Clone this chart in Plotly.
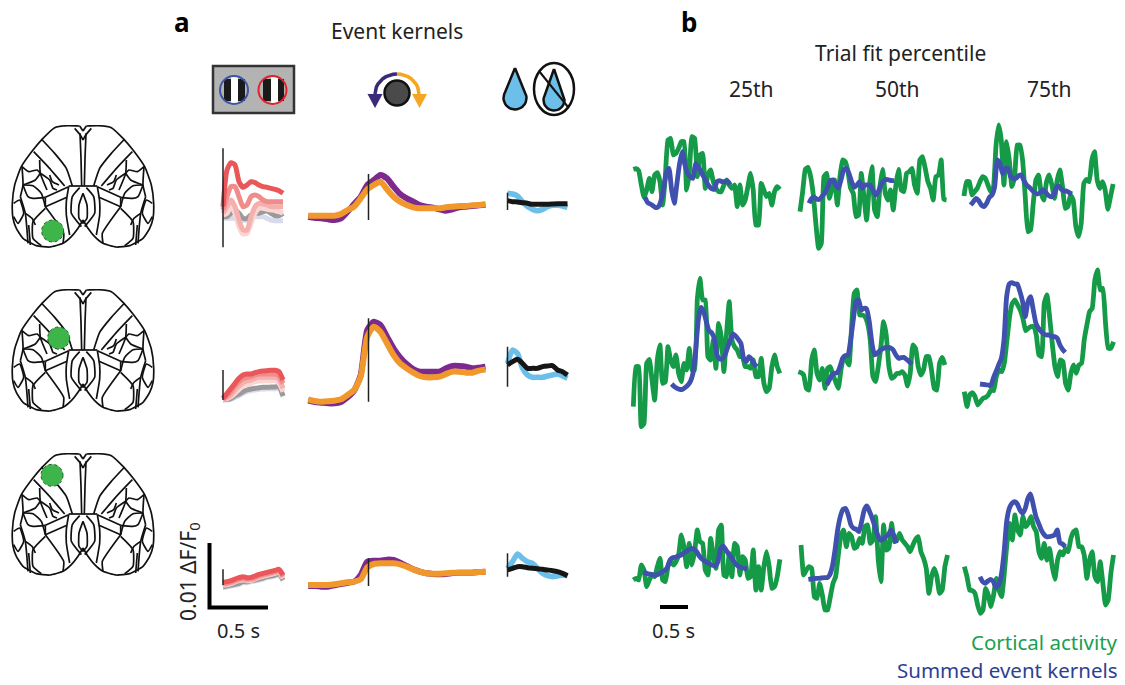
import math
import plotly.graph_objects as go

W, H = 1125, 685

# ---------- panel a: event kernels (values in a.u., time in s from event) ----------
VIS_DT, WHEEL_DT, REW_DT = 0.069, 0.1132, 0.0862
WHEEL_T0 = -1.04

VIS_R1_RED = [130,240,262,255,205,188,195,205,202,195,190,188,185,182,178,170]
VIS_R1_SALMON = [120,160,190,190,160,130,135,160,165,160,150,145,145,145,145,145]
VIS_R1_PINK = [110,130,150,130,90,60,60,100,130,140,138,135,130,130,130,130]
VIS_R1_PALE = [105,110,130,110,70,48,50,80,110,125,125,122,120,118,115,110]
VIS_R1_GRAY = [100,100,110,120,110,95,95,105,110,110,115,118,110,103,103,110]
VIS_R1_LAV = [95,95,95,95,95,90,90,95,100,100,100,95,90,88,88,88]
WHEEL_R1_ORANGE = [103,103,103,103,103,108,120,130,155,182,195,205,182,160,145,135,128,125,125,125,125,128,130,132,132,134,135,137]
WHEEL_R1_PURPLE = [100,97,95,92,90,95,115,138,160,195,210,225,215,190,168,155,145,135,130,127,122,118,122,128,130,132,134,136]
REW_R1_BLUE = [170,168,162,145,130,122,118,122,130,134,134,132,128]
REW_R1_BLACK = [148,145,144,142,140,137,137,137,137,138,139,139,139]

VIS_R2_RED = [105,120,135,150,165,175,178,178,182,185,187,188,189,189,185,160]
VIS_R2_SALMON = [103,113,125,142,155,165,168,170,175,178,178,178,178,178,172,150]
VIS_R2_PINK = [102,107,115,130,142,152,157,160,165,168,168,168,168,168,162,135]
VIS_R2_PALE = [102,104,110,120,132,142,146,150,155,157,157,158,158,158,150,125]
VIS_R2_GRAY = [101,102,105,112,118,125,130,133,135,137,138,138,139,139,140,112]
VIS_R2_LAV = [100,100,102,108,113,120,125,128,130,132,133,134,134,134,135,110]
WHEEL_R2_ORANGE = [102,97,95,96,98,102,115,130,170,290,320,305,270,235,210,195,182,172,168,168,170,178,185,185,182,182,188,192]
WHEEL_R2_PURPLE = [98,94,92,90,90,94,108,128,175,310,335,325,290,255,228,208,193,185,185,185,185,195,202,202,200,195,197,200]
REW_R2_BLUE = [210,250,240,195,175,168,168,168,172,175,178,172,165]
REW_R2_BLACK = [205,215,222,210,195,195,195,200,202,203,190,185,175]

VIS_R3_RED = [193,195,198,203,207,210,207,208,212,217,220,223,226,229,232,215]
VIS_R3_SALMON = [190,191,194,199,203,206,203,204,208,213,216,219,222,225,228,211]
VIS_R3_PINK = [187,188,191,196,200,203,200,201,205,210,213,216,219,222,225,208]
VIS_R3_PALE = [185,186,189,194,198,201,198,199,203,208,211,214,217,220,223,205]
VIS_R3_GRAY = [180,182,185,187,190,195,195,198,200,203,206,210,212,215,218,200]
VIS_R3_LAV = [177,179,182,184,187,192,192,195,197,200,203,207,209,212,215,198]
WHEEL_R3_ORANGE = [185,185,185,185,187,190,193,195,202,238,248,250,250,250,247,240,232,225,220,219,219,220,222,222,222,222,224,225]
WHEEL_R3_PURPLE = [182,182,180,180,184,188,192,195,215,255,258,258,261,260,252,242,232,225,220,218,217,218,221,222,222,222,224,225]
REW_R3_BLUE = [235,255,278,265,255,250,235,220,213,210,212,215,213]
REW_R3_BLACK = [230,235,240,240,237,235,234,232,230,228,225,220,213]

EVENT_VIS = [(305, 8), (190, 100), (232, 185)]
EVENT_WHEEL = [(228, 90), (345, 95), (265, 182)]
EVENT_REW = [(172, 120), (260, 140), (280, 210)]

# ---------- panel b: single trials (a.u., time in s from panel start) ----------
TRIAL_DT = 0.0444
GREEN_T0 = [[.139,.139,.094],[.139,.111,.1],[.139,.156,.1]]
BLUE_T0 = [[.333,.289,.206],[.778,.583,.361],[.306,.278,.361]]

G11 = [252,254,248,205,168,190,225,185,235,242,215,145,230,340,345,295,300,315,335,335,190,240,350,345,230,295,300,195,235,250,215,195,185,185,205,220,205,195,205,140,205,145,160,200,240,190,85,85,210,190,170,180,145,185,200,192]
B11 = [168,152,148,143,137,140,158,195,240,255,190,150,210,270,305,265,240,230,225,270,260,245,230,215,202,194,192,215,218,215,215,217,206]
G12 = [125,185,252,258,230,175,85,15,30,230,240,165,195,220,145,230,280,275,245,195,180,110,115,240,170,100,200,260,130,110,200,252,180,160,190,130,205,252,190,185,240,245,255,205,180,280,290,255,215,195,160,230,235,280,162,160]
B12 = [150,165,168,162,162,172,182,198,218,220,205,195,220,250,255,240,215,198,205,215,195,205,205,205,190,175,185,205,217,222,220,218,218]
G13 = [172,215,215,175,185,195,215,230,225,205,185,195,320,385,340,205,335,280,200,230,325,325,280,170,65,70,150,220,235,180,160,215,235,205,165,220,250,200,135,140,175,160,80,50,90,210,222,215,280,305,220,195,215,190,132,170,208]
B13 = [145,155,165,158,145,140,150,168,175,200,280,270,238,255,255,230,225,225,233,235,218,205,198,190,182,178,182,190,185,175,170,172,195,202,192,187,187,182,178]

G21 = [80,200,200,20,30,210,222,160,100,220,265,150,155,260,220,200,235,180,155,210,190,255,190,190,400,465,400,400,230,220,280,195,330,290,185,300,395,280,260,250,230,230,200,200,195,220,170,170,225,150,125,135,200,235,200,180]
B21 = [148,140,135,132,132,137,144,155,180,250,340,378,365,335,308,302,285,235,223,224,235,258,280,298,292,282,270,225,215,230,222,208,200]
G22 = [185,182,175,135,130,220,250,180,160,195,135,195,200,175,155,135,190,230,220,205,320,420,430,355,355,350,330,280,170,155,200,260,335,295,200,165,170,180,180,185,175,142,180,265,255,200,175,190,230,230,190,135,130,210,228,205]
B22 = [145,160,175,180,182,200,225,233,235,280,340,395,400,370,375,373,335,270,235,240,248,253,257,258,256,250,235,225,227,228,222,215,207]
G23 = [125,80,115,122,110,85,95,105,108,115,130,128,170,190,185,210,280,350,390,400,385,370,345,308,315,320,320,295,235,230,390,415,350,270,200,170,220,215,150,130,180,205,180,205,210,280,325,365,375,460,490,430,435,330,255,255,275]
B23 = [148,147,146,145,143,165,185,205,225,280,410,448,452,448,448,425,395,350,395,410,370,330,315,305,298,295,295,290,290,285,265,252,243]

G31 = [120,125,120,165,150,100,120,135,130,160,185,120,115,160,180,165,175,195,255,220,160,230,165,205,270,235,230,150,135,245,195,155,270,285,135,130,200,130,230,220,135,190,180,125,130,210,90,160,90,160,205,160,95,100,130,182]
B31 = [143,141,138,137,135,135,140,144,148,158,180,187,188,192,194,200,205,210,214,213,205,192,183,177,172,168,164,162,175,215,222,210,198,188,175,165,160,157,155,153]
G32 = [225,135,150,160,155,70,65,110,75,30,30,70,110,130,195,255,270,220,260,250,215,220,245,230,280,285,230,240,310,180,115,285,210,215,290,235,240,260,240,230,220,205,225,242,250,205,185,155,80,130,155,130,80,90,160,195]
B32 = [122,123,124,125,125,126,127,127,135,160,210,270,310,332,335,315,285,275,272,265,295,330,342,325,305,280,255,240,242,250,255,270,255,230]
G33 = [160,130,90,88,80,45,20,30,95,75,40,75,125,90,70,140,230,290,240,315,270,255,310,280,290,310,280,265,205,185,230,180,215,160,122,180,205,195,215,205,245,265,270,220,220,195,125,180,205,130,115,175,110,45,60,140,195]
B33 = [130,115,110,117,122,115,98,105,135,200,295,335,350,355,348,330,320,335,365,378,345,310,290,270,257,250,250,252,255,270,232,228,220]

# ---------- atlas outline (left hemisphere, mirrored for the right) ----------
BRAIN_LINES = [
    [(-10,3),(-45,2),(-85,8),(-120,40),(-150,75),(-185,125),(-205,180),(-212,235),(-210,280),(-200,310),(-180,340),(-140,362),(-100,366),(-60,355),(-35,335),(-15,310),(0,285)],
    [(-10,3),(0,18)], [(-25,10),(-8,30),(0,45)], [(-9,25),(-6,100),(-4,183)],
    [(-43,183),(0,183)],
    [(-125,42),(-85,85),(-50,130),(-32,183)],
    [(-148,80),(-105,125),(-55,183)],
    [(-130,105),(-128,145),(-108,195)],
    [(-128,145),(-100,165),(-90,190),(-78,195)],
    [(-100,150),(-92,170),(-72,180)],
    [(-183,125),(-163,140),(-138,135),(-128,145)],
    [(-180,180),(-143,165),(-128,145)],
    [(-183,125),(-180,180),(-188,215)],
    [(-180,180),(-150,182),(-125,205),(-113,245)],
    [(-113,217),(-43,185)], [(-113,245),(-48,217)], [(-113,217),(-113,245)],
    [(-43,185),(-50,230),(-50,270),(-40,330)],
    [(-10,188),(-32,215),(-35,265),(-5,305)],
    [(0,205),(-12,240),(-12,280),(0,295)],
    [(-113,250),(-150,290),(-150,340),(-125,362)],
    [(-113,245),(-58,325),(-60,355)],
    [(-173,265),(-153,280),(-143,300)],
    [(-188,215),(-173,265),(-165,355)],
    [(-163,300),(-158,360)],
    [(-208,235),(-190,225),(-178,265),(-195,295),(-208,275)],
    [(-180,180),(-165,215),(-150,220),(-113,217)],
]
SPOTS = [(-91,318), (-73,147), (-93,67)]
BRAIN_TOPS = [125, 289, 453]

C_RED, C_SALMON, C_PINK, C_PALE, C_GRAY, C_LAV = "#e9575a", "#f08c8c", "#f5b0ad", "#f9d5d3", "#9a9a9a", "#d8dbec"
C_ORANGE, C_PURPLE, C_SKY = "#f0982c", "#7d2a8e", "#6cbfe9"
C_TGREEN, C_TBLUE = "#159a48", "#3f50ae"
FONT = "Noto Sans"

fig = go.Figure()
layout = {}
n_axes = [0]
shapes = []


def axes(px0, px1, py0, py1, xr, yr):
    n_axes[0] += 1
    k = n_axes[0]
    s = "" if k == 1 else str(k)
    common = dict(visible=False, fixedrange=True)
    layout["xaxis" + s] = dict(domain=[px0 / W, px1 / W], range=xr, anchor="y" + s, **common)
    layout["yaxis" + s] = dict(domain=[1 - py1 / H, 1 - py0 / H], range=yr, anchor="x" + s, **common)
    return "x" + s, "y" + s


def line(ax, x, y, color, width, smooth=0.0):
    style = dict(color=color, width=width)
    if smooth:
        style.update(shape="spline", smoothing=smooth)
    fig.add_trace(go.Scatter(x=x, y=y, xaxis=ax[0], yaxis=ax[1], mode="lines", cliponaxis=False,
                             line=style, hoverinfo="skip", showlegend=False))


def series(ax, t0, dt, vals, color, width, smooth=0.6):
    line(ax, [t0 + i * dt for i in range(len(vals))], vals, color, width, smooth)


# overlay in page units: icons and scale bars (first, so it lies lowest)
page = axes(0, W, 0, H, [0, W], [H, 0])

# brains
for top, spot in zip(BRAIN_TOPS, SPOTS):
    ax = axes(8, 158, top, top + 130, [-225, 225], [390, 0])
    for seg in BRAIN_LINES:
        line(ax, [p[0] for p in seg], [p[1] for p in seg], "#111111", 1.7, 0.5)
        line(ax, [-p[0] for p in seg], [p[1] for p in seg], "#111111", 1.7, 0.5)
    shapes.append(dict(type="circle", xref=ax[0], yref=ax[1], x0=spot[0]-33, x1=spot[0]+33, y0=spot[1]-33, y1=spot[1]+33,
                       fillcolor="#3db54a", line=dict(color="#1f5c2a", width=1, dash="dot")))

# kernels
KERNEL_ROWS = [
    (50, 250, 600, [VIS_R1_LAV,VIS_R1_GRAY,VIS_R1_PALE,VIS_R1_PINK,VIS_R1_SALMON,VIS_R1_RED], WHEEL_R1_PURPLE, WHEEL_R1_ORANGE, REW_R1_BLUE, REW_R1_BLACK),
    (300, 433.33, 400, [VIS_R2_LAV,VIS_R2_GRAY,VIS_R2_PALE,VIS_R2_PINK,VIS_R2_SALMON,VIS_R2_RED], WHEEL_R2_PURPLE, WHEEL_R2_ORANGE, REW_R2_BLUE, REW_R2_BLACK),
    (530, 646.67, 350, [VIS_R3_LAV,VIS_R3_GRAY,VIS_R3_PALE,VIS_R3_PINK,VIS_R3_SALMON,VIS_R3_RED], WHEEL_R3_PURPLE, WHEEL_R3_ORANGE, REW_R3_BLUE, REW_R3_BLACK),
]
PX_PER_S = 58
VIS_COLORS = [C_LAV, C_GRAY, C_PALE, C_PINK, C_SALMON, C_RED]
for r, (top, bot, ymax, vis, purple, orange, blue, black) in enumerate(KERNEL_ROWS):
    yr = [0, ymax]
    ax = axes(210, 300, top, bot, [(210 - 223) / PX_PER_S, (300 - 223) / PX_PER_S], yr)
    for vals, c in zip(vis, VIS_COLORS):
        series(ax, 0, VIS_DT, vals, c, 5)
    line(ax, [0, 0], list(EVENT_VIS[r]), "#222222", 1.5)
    ax = axes(300, 495, top, bot, [(300 - 368.5) / PX_PER_S, (495 - 368.5) / PX_PER_S], yr)
    series(ax, WHEEL_T0, WHEEL_DT, purple, C_PURPLE, 6)
    series(ax, WHEEL_T0, WHEEL_DT, orange, C_ORANGE, 6)
    line(ax, [0, 0], list(EVENT_WHEEL[r]), "#222222", 1.5)
    ax = axes(495, 590, top, bot, [(495 - 507.5) / PX_PER_S, (590 - 507.5) / PX_PER_S], yr)
    series(ax, 0, REW_DT, blue, C_SKY, 5.5)
    series(ax, 0, REW_DT, black, "#161616", 5)
    line(ax, [0, 0], list(EVENT_REW[r]), "#222222", 1.5)

# trials
TRIAL_ROWS = [(110, 253.33, 430, [(G11,B11),(G12,B12),(G13,B13)]),
              (260, 433.33, 520, [(G21,B21),(G22,B22),(G23,B23)]),
              (480, 620, 420, [(G31,B31),(G32,B32),(G33,B33)])]
for r, (top, bot, ymax, cols) in enumerate(TRIAL_ROWS):
    for c, (green, blue) in enumerate(cols):
        left = 625 + c * 500 / 3
        ax = axes(left, left + 500 / 3, top, bot, [0, 500 / 180], [0, ymax])
        series(ax, GREEN_T0[r][c], TRIAL_DT, green, C_TGREEN, 4.8, 0.4)
        series(ax, BLUE_T0[r][c], TRIAL_DT, blue, C_TBLUE, 4.8, 0.5)

line(page, [209.5, 209.5, 268], [543, 607.5, 607.5], "#000000", 4)
line(page, [660, 688], [607, 607], "#000000", 4)


def rect(x0, y0, x1, y1, fill, lw=0, lc="#000000"):
    shapes.append(dict(type="rect", xref=page[0], yref=page[1], x0=x0, y0=y0, x1=x1, y1=y1,
                       fillcolor=fill, line=dict(color=lc, width=lw)))


def ell(cx, cy, rx, ry, fill, lw, lc):
    shapes.append(dict(type="circle", xref=page[0], yref=page[1], x0=cx-rx, x1=cx+rx, y0=cy-ry, y1=cy+ry,
                       fillcolor=fill, line=dict(color=lc, width=lw)))


def poly(pts, fill, lw=0, lc="#000000"):
    fig.add_trace(go.Scatter(x=[p[0] for p in pts], y=[p[1] for p in pts], xaxis=page[0], yaxis=page[1],
                             mode="lines", fill="toself", fillcolor=fill, cliponaxis=False,
                             line=dict(color=lc if lw else fill, width=lw or 0.1), hoverinfo="skip", showlegend=False))


def drop_pts(cx, tip, cy, r):
    pts = [(cx, tip)]
    for d in range(-30, 211, 10):
        a = math.radians(d)
        pts.append((cx + r * math.cos(a), cy + r * math.sin(a)))
    pts.append((cx, tip))
    return pts


# stimulus icon
rect(213, 66, 294, 113, "#b3b3b3", 2.5, "#333333")
rect(224, 79, 231, 101, "#1a1a1a"); rect(231, 76, 238, 104, "#ffffff"); rect(238, 79, 245, 101, "#1a1a1a")
rect(263, 79, 271, 101, "#1a1a1a"); rect(271, 76, 278, 104, "#ffffff"); rect(278, 79, 284, 101, "#1a1a1a")
ell(234, 90, 14, 14, "rgba(0,0,0,0)", 2, "#3d55a5")
ell(272.5, 90, 14, 14, "rgba(0,0,0,0)", 2, "#e0222a")

# wheel icon
arc_l = [(397 - 22 * math.cos(math.radians(a)), 94 - 20 * math.sin(math.radians(a))) for a in range(0, 91, 10)]
arc_r = [(397 + 22 * math.cos(math.radians(a)), 94 - 20 * math.sin(math.radians(a))) for a in range(0, 91, 10)]
line(page, [p[0] for p in arc_l], [p[1] for p in arc_l], "#3b2a7a", 3.5)
line(page, [p[0] for p in arc_r], [p[1] for p in arc_r], "#f5a623", 3.5)
poly([(367.5, 94), (382.5, 94), (375, 108)], "#3b2a7a")
poly([(412, 94), (427, 94), (419.5, 108)], "#f5a623")
ell(397, 93, 12.5, 12.5, "#4a4a4a", 2.5, "#111111")

# water icons
poly(drop_pts(515, 68, 98, 11.5), C_SKY, 2.5, "#111111")
poly(drop_pts(554, 69, 100, 10.5), C_SKY, 2.5, "#111111")
ell(554, 89, 20, 26, "rgba(0,0,0,0)", 2.5, "#111111")
shapes.append(dict(type="line", xref=page[0], yref=page[1], x0=539, y0=71, x1=568, y1=107, line=dict(color="#111111", width=2)))

layout["shapes"] = shapes

def label(x, y, text, size=21, color="#222222", anchor="center", bold=False, angle=0):
    return dict(xref="paper", yref="paper", x=x / W, y=1 - y / H, text=f"<b>{text}</b>" if bold else text, showarrow=False,
                xanchor=anchor, yanchor="middle", textangle=angle, font=dict(family=FONT, size=size, color=color))


layout["annotations"] = [
    label(182, 22, "a", 26, "#000000", bold=True),
    label(689, 22, "b", 26, "#000000", bold=True),
    label(397, 31, "Event kernels"),
    label(900, 53, "Trial fit percentile"),
    label(751, 89, "25th"), label(897, 89, "50th"), label(1049, 89, "75th"),
    label(189, 572, "0.01 ΔF/F<sub>0</sub>", angle=-90),
    label(238, 630, "0.5 s", 20), label(673, 630, "0.5 s", 20),
    label(1120, 642, "Cortical activity", 20.5, "#1aa04f", "right"),
    label(1120, 670, "Summed event kernels", 20.5, "#2e3f92", "right"),
]

fig.update_layout(width=W, height=H, margin=dict(l=0, r=0, t=0, b=0), paper_bgcolor="white", plot_bgcolor="rgba(0,0,0,0)",
                  showlegend=False, **layout)
fig.write_html("out.html", config={"displayModeBar": False},
               post_script="document.body.style.margin='0';document.documentElement.style.overflow='hidden';")
